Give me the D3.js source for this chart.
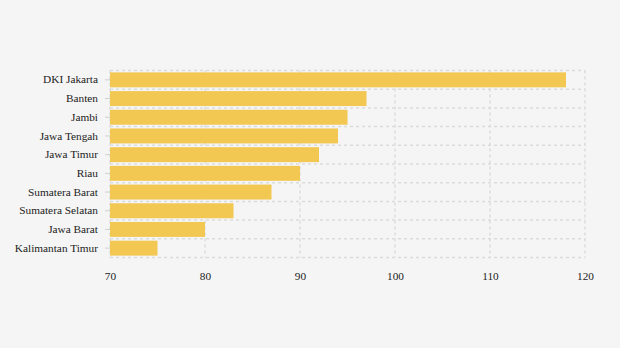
<!DOCTYPE html>
<html>
<head>
<meta charset="utf-8">
<script src="https://cdn.jsdelivr.net/npm/d3@7"></script>
<style>
  html, body { margin: 0; padding: 0; background: #f5f5f5; }
  svg { display: block; }
  svg text { font-family: "Liberation Serif", "Times New Roman", Times, serif !important; }
</style>
</head>
<body>
<svg id="chart" width="620" height="348"></svg>
<script>
const provinces = ["DKI Jakarta", "Banten", "Jambi", "Jawa Tengah", "Jawa Timur", "Riau",
  "Sumatera Barat", "Sumatera Selatan", "Jawa Barat", "Kalimantan Timur"];
const values = [118, 97, 95, 94, 92, 90, 87, 83, 80, 75];
const xTicks = [70, 80, 90, 100, 110, 120];

const margin = { top: 70.5, right: 35, bottom: 90.5, left: 110 };
const width = 620, height = 348;
const serif = "Liberation Serif, Times New Roman, serif";
const svg = d3.select("#chart");
const innerW = width - margin.left - margin.right;
const innerH = height - margin.top - margin.bottom;

const x = d3.scaleLinear().domain([70, 120]).range([0, innerW]);
const y = d3.scaleBand().domain(provinces).range([0, innerH]).paddingInner(0.2).paddingOuter(0.1);

const g = svg.append("g").attr("transform", `translate(${margin.left},${margin.top})`);

const gridColor = "#dcdcdc";
// vertical grid at ticks
g.selectAll("line.vgrid").data(xTicks).join("line")
  .attr("class", "vgrid")
  .attr("x1", d => x(d)).attr("x2", d => x(d))
  .attr("y1", 0).attr("y2", innerH)
  .attr("stroke", gridColor).attr("stroke-width", 1.5).attr("stroke-dasharray", "3,3");

// horizontal grid at band boundaries
const bounds = d3.range(provinces.length + 1).map(i => i * innerH / provinces.length);
g.selectAll("line.hgrid").data(bounds).join("line")
  .attr("class", "hgrid")
  .attr("x1", 0).attr("x2", innerW)
  .attr("y1", d => d).attr("y2", d => d)
  .attr("stroke", gridColor).attr("stroke-width", 1.5).attr("stroke-dasharray", "3,3");

// bars
g.selectAll("rect.bar").data(provinces).join("rect")
  .attr("class", "bar")
  .attr("x", x(70))
  .attr("y", d => y(d))
  .attr("width", (d, i) => x(values[i]) - x(70))
  .attr("height", y.bandwidth())
  .attr("fill", "#f2c852");

// y axis
const yAxis = g.append("g").call(d3.axisLeft(y).tickSize(5).tickPadding(7))
  .attr("font-family", serif).attr("font-size", 11.3);
yAxis.select(".domain").remove();
yAxis.selectAll(".tick line").attr("stroke", "#d0d0d0");
yAxis.selectAll(".tick text").attr("fill", "#222");

// x axis
const xAxis = g.append("g").attr("transform", `translate(0,${innerH})`)
  .call(d3.axisBottom(x).tickValues(xTicks).tickSize(0).tickPadding(14))
  .attr("font-family", serif).attr("font-size", 11.3);
xAxis.select(".domain").remove();
xAxis.selectAll(".tick text").attr("fill", "#222");
</script>
</body>
</html>
